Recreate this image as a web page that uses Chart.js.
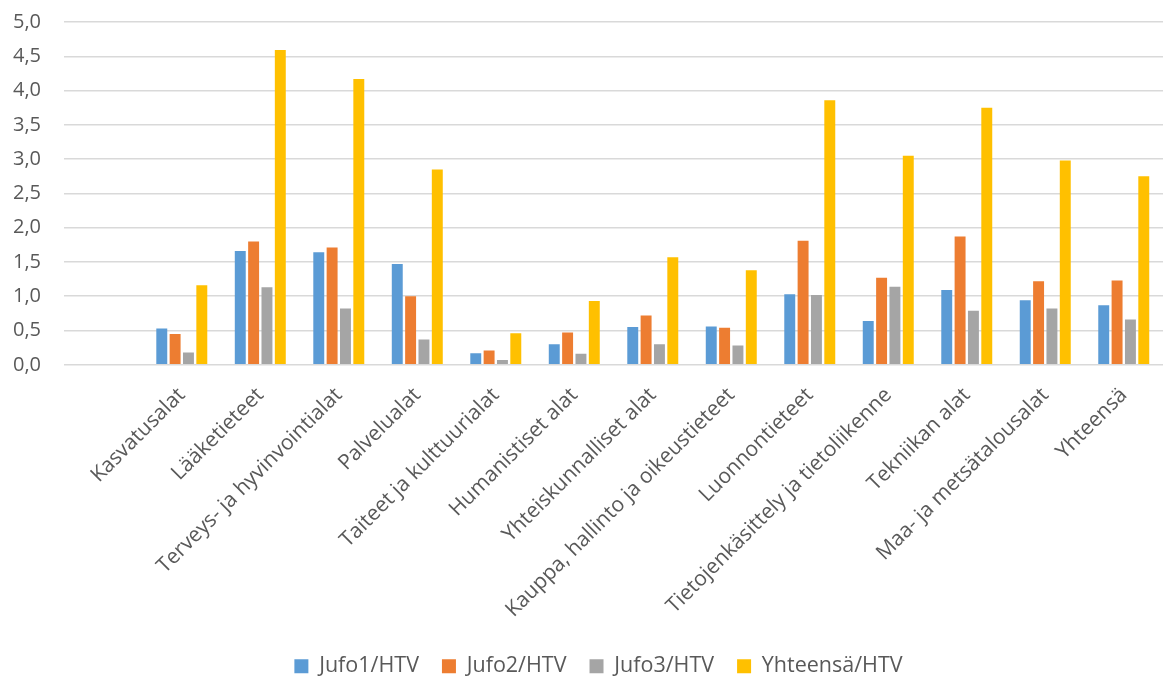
<!DOCTYPE html>
<html>
<head>
<meta charset="utf-8">
<script src="https://cdn.jsdelivr.net/npm/chart.js@4"></script>
<style>
  html, body { margin: 0; padding: 0; background: #fff; overflow: hidden; }
  #wrap { width: 1165px; height: 677px; overflow: hidden; }
  /* canvas is a bit bigger and pulled up/left so the plot sits like in the original */
  #chart { display: block; margin-top: -13px; margin-left: -10px; }
</style>
</head>
<body>
<div id="wrap"><canvas id="chart" width="1175" height="690"></canvas></div>
<script>
// categories (first one is an empty row in the source sheet)
const categories = ['', 'Kasvatusalat', 'Lääketieteet', 'Terveys- ja hyvinvointialat', 'Palvelualat',
  'Taiteet ja kulttuurialat', 'Humanistiset alat', 'Yhteiskunnalliset alat',
  'Kauppa, hallinto ja oikeustieteet', 'Luonnontieteet', 'Tietojenkäsittely ja tietoliikenne',
  'Tekniikan alat', 'Maa- ja metsätalousalat', 'Yhteensä'];

const jufo1 = [null, 0.53, 1.66, 1.64, 1.47, 0.17, 0.30, 0.55, 0.56, 1.03, 0.64, 1.09, 0.94, 0.87];
const jufo2 = [null, 0.45, 1.80, 1.71, 1.00, 0.21, 0.47, 0.72, 0.54, 1.81, 1.27, 1.87, 1.22, 1.23];
const jufo3 = [null, 0.18, 1.13, 0.82, 0.37, 0.07, 0.16, 0.30, 0.28, 1.02, 1.14, 0.79, 0.82, 0.66];
const yhteensa = [null, 1.16, 4.59, 4.17, 2.85, 0.46, 0.93, 1.57, 1.38, 3.86, 3.05, 3.75, 2.98, 2.75];

const seriesNames = ['Jufo1/HTV', 'Jufo2/HTV', 'Jufo3/HTV', 'Yhteensä/HTV'];
const colors = ['#5B9BD5', '#ED7D31', '#A5A5A5', '#FFC000'];

const FONT = '"Open Sans", sans-serif';
const TXT = '#595959';

// nudge the legend a bit right, like in the original
const legendShift = {
  id: 'legendShift',
  afterLayout(chart) {
    chart.legend.left += 22;
    chart.legend.right += 22;
  }
};

const ctx = document.getElementById('chart').getContext('2d');
new Chart(ctx, {
  type: 'bar',
  data: {
    labels: categories,
    datasets: [jufo1, jufo2, jufo3, yhteensa].map((d, i) => ({
      label: seriesNames[i],
      data: d,
      backgroundColor: colors[i],
      borderWidth: 0,
      barPercentage: 0.82,
      categoryPercentage: 0.68
    }))
  },
  options: {
    responsive: false,
    animation: false,
    layout: { padding: { left: 0, right: 2, top: 0, bottom: -10 } },
    plugins: {
      legend: {
        position: 'bottom',
        labels: {
          color: TXT,
          font: { family: FONT, size: 21.5 },
          boxWidth: 14,
          boxHeight: 14,
          padding: 23
        }
      },
      tooltip: { enabled: false }
    },
    scales: {
      x: {
        grid: { display: false },
        border: { display: false },
        ticks: {
          color: TXT,
          font: { family: FONT, size: 21 },
          minRotation: 45,
          maxRotation: 45,
          autoSkip: false,
          padding: 10
        }
      },
      y: {
        min: 0,
        max: 5,
        grid: { color: '#D9D9D9', lineWidth: 1.5, drawTicks: false },
        border: { display: false },
        ticks: {
          stepSize: 0.5,
          color: TXT,
          font: { family: FONT, size: 20 },
          padding: 23,
          callback: v => v.toFixed(1).replace('.', ',')
        }
      }
    }
  },
  plugins: [legendShift]
});
</script>
</body>
</html>
